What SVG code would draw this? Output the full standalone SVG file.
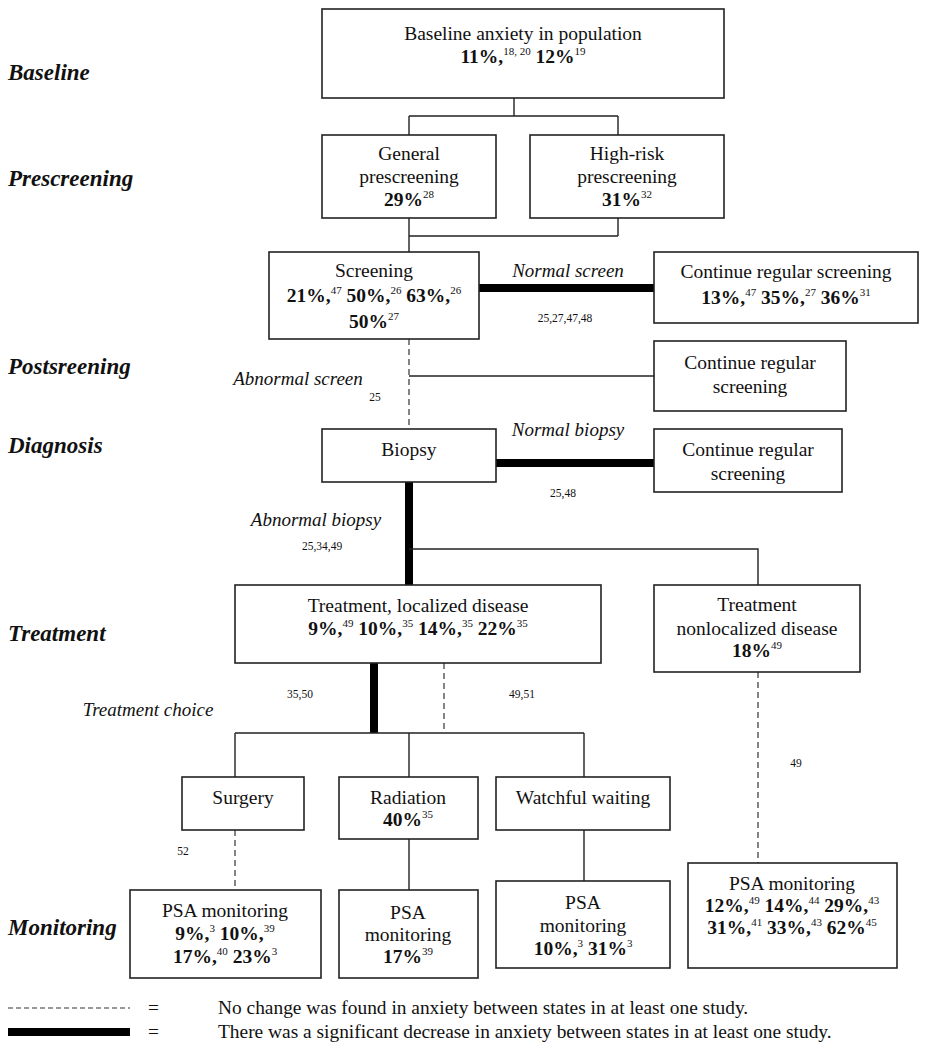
<svg xmlns="http://www.w3.org/2000/svg" width="940" height="1050" viewBox="0 0 940 1050">
<style>
text{font-family:"Liberation Serif","Times New Roman",serif;fill:#111}
.t{font-size:19.5px;text-anchor:middle}
.b{font-weight:bold}
.s{font-size:11px;font-weight:normal}
.st{font-size:23px;font-weight:bold;font-style:italic}
.it{font-size:19px;font-style:italic;text-anchor:middle}
.r{font-size:11.5px;text-anchor:middle}
.lg{font-size:19.4px}
rect{fill:#fff;stroke:#222;stroke-width:1.6}
.ln{stroke:#222;stroke-width:1.4;fill:none}
.dash{stroke:#333;stroke-width:1.2;stroke-dasharray:6,4;fill:none}
.thick{stroke:#000;stroke-width:8;fill:none}
</style>
<rect x="0" y="0" width="940" height="1050" style="fill:#fff;stroke:none"/>

<g id="stages">
<text class="st" x="8" y="80">Baseline</text>
<text class="st" x="8" y="186">Prescreening</text>
<text class="st" x="8" y="374">Postsreening</text>
<text class="st" x="8" y="453">Diagnosis</text>
<text class="st" x="8" y="641">Treatment</text>
<text class="st" x="8" y="935">Monitoring</text>
</g>

<g id="connectors">
<path class="ln" d="M514 98V116M409 116H618M409 116V135M618 116V135"/>
<path class="ln" d="M409 218V236M618 218V236M409 236H618M409 236V252"/>
<path class="thick" d="M479 288H654"/>
<path class="dash" d="M409 339V429"/>
<path class="ln" d="M409 376H654"/>
<path class="thick" d="M496 463H654"/>
<path class="thick" d="M409 482V585"/>
<path class="ln" d="M409 549H758V585"/>
<path class="thick" d="M374 663V733"/>
<path class="dash" d="M444 663V733"/>
<path class="ln" d="M235 733H584M235 733V777M409 733V777M584 733V777"/>
<path class="dash" d="M758 672V863"/>
<path class="dash" d="M235 830V890"/>
<path class="ln" d="M409 839V890"/>
<path class="ln" d="M584 830V881"/>
</g>

<g id="edge-labels">
<text class="it" x="568" y="277">Normal screen</text>
<text class="r" x="565" y="322">25,27,47,48</text>
<text class="it" x="298" y="385">Abnormal screen</text>
<text class="r" x="375" y="401">25</text>
<text class="it" x="568" y="436">Normal biopsy</text>
<text class="r" x="563" y="497">25,48</text>
<text class="it" x="316" y="526">Abnormal biopsy</text>
<text class="r" x="322" y="550">25,34,49</text>
<text class="r" x="300" y="698">35,50</text>
<text class="r" x="522" y="698">49,51</text>
<text class="it" x="148" y="716">Treatment choice</text>
<text class="r" x="796" y="767">49</text>
<text class="r" x="183" y="855">52</text>
</g>

<g id="baseline">
<rect x="322" y="9" width="402" height="89"/>
<text class="t" x="523" y="40">Baseline anxiety in population</text>
<text class="t b" x="523" y="63">11%,<tspan class="s" dy="-8">18, 20</tspan><tspan dy="8"> 12%</tspan><tspan class="s" dy="-8">19</tspan></text>
</g>

<g id="general-prescreening">
<rect x="322" y="135" width="174" height="83"/>
<text class="t" x="409" y="160">General</text>
<text class="t" x="409" y="183">prescreening</text>
<text class="t b" x="409" y="206">29%<tspan class="s" dy="-8">28</tspan></text>
</g>

<g id="highrisk-prescreening">
<rect x="530" y="135" width="194" height="83"/>
<text class="t" x="627" y="160">High-risk</text>
<text class="t" x="627" y="183">prescreening</text>
<text class="t b" x="627" y="206">31%<tspan class="s" dy="-8">32</tspan></text>
</g>

<g id="screening">
<rect x="269" y="252" width="210" height="87"/>
<text class="t" x="374" y="277">Screening</text>
<text class="t b" x="374" y="302">21%,<tspan class="s" dy="-8">47</tspan><tspan dy="8"> 50%,</tspan><tspan class="s" dy="-8">26</tspan><tspan dy="8"> 63%,</tspan><tspan class="s" dy="-8">26</tspan></text>
<text class="t b" x="374" y="328">50%<tspan class="s" dy="-8">27</tspan></text>
</g>

<g id="continue1">
<rect x="654" y="252" width="264" height="71"/>
<text class="t" x="786" y="278">Continue regular screening</text>
<text class="t b" x="786" y="304">13%,<tspan class="s" dy="-8">47</tspan><tspan dy="8"> 35%,</tspan><tspan class="s" dy="-8">27</tspan><tspan dy="8"> 36%</tspan><tspan class="s" dy="-8">31</tspan></text>
</g>

<g id="continue2">
<rect x="654" y="341" width="192" height="70"/>
<text class="t" x="750" y="369">Continue regular</text>
<text class="t" x="750" y="393">screening</text>
</g>

<g id="biopsy">
<rect x="322" y="429" width="174" height="53"/>
<text class="t" x="409" y="456">Biopsy</text>
</g>

<g id="continue3">
<rect x="654" y="429" width="188" height="63"/>
<text class="t" x="748" y="456">Continue regular</text>
<text class="t" x="748" y="480">screening</text>
</g>

<g id="treatment-localized">
<rect x="235" y="585" width="366" height="78"/>
<text class="t" x="418" y="612">Treatment, localized disease</text>
<text class="t b" x="418" y="635">9%,<tspan class="s" dy="-8">49</tspan><tspan dy="8"> 10%,</tspan><tspan class="s" dy="-8">35</tspan><tspan dy="8"> 14%,</tspan><tspan class="s" dy="-8">35</tspan><tspan dy="8"> 22%</tspan><tspan class="s" dy="-8">35</tspan></text>
</g>

<g id="treatment-nonlocalized">
<rect x="654" y="585" width="206" height="87"/>
<text class="t" x="757" y="611">Treatment</text>
<text class="t" x="757" y="635">nonlocalized disease</text>
<text class="t b" x="757" y="657">18%<tspan class="s" dy="-8">49</tspan></text>
</g>

<g id="surgery">
<rect x="182" y="777" width="122" height="53"/>
<text class="t" x="243" y="804">Surgery</text>
</g>

<g id="radiation">
<rect x="339" y="777" width="139" height="62"/>
<text class="t" x="408" y="804">Radiation</text>
<text class="t b" x="408" y="826">40%<tspan class="s" dy="-8">35</tspan></text>
</g>

<g id="watchful-waiting">
<rect x="496" y="777" width="174" height="53"/>
<text class="t" x="583" y="804">Watchful waiting</text>
</g>

<g id="psa1">
<rect x="130" y="890" width="191" height="88"/>
<text class="t" x="225" y="917">PSA monitoring</text>
<text class="t b" x="225" y="940">9%,<tspan class="s" dy="-8">3</tspan><tspan dy="8"> 10%,</tspan><tspan class="s" dy="-8">39</tspan></text>
<text class="t b" x="225" y="963">17%,<tspan class="s" dy="-8">40</tspan><tspan dy="8"> 23%</tspan><tspan class="s" dy="-8">3</tspan></text>
</g>

<g id="psa2">
<rect x="339" y="890" width="139" height="88"/>
<text class="t" x="408" y="919">PSA</text>
<text class="t" x="408" y="941">monitoring</text>
<text class="t b" x="408" y="963">17%<tspan class="s" dy="-8">39</tspan></text>
</g>

<g id="psa3">
<rect x="496" y="881" width="174" height="87"/>
<text class="t" x="583" y="909">PSA</text>
<text class="t" x="583" y="932">monitoring</text>
<text class="t b" x="583" y="955">10%,<tspan class="s" dy="-8">3</tspan><tspan dy="8"> 31%</tspan><tspan class="s" dy="-8">3</tspan></text>
</g>

<g id="psa4">
<rect x="688" y="863" width="209" height="105"/>
<text class="t" x="792" y="890">PSA monitoring</text>
<text class="t b" x="792" y="912">12%,<tspan class="s" dy="-8">49</tspan><tspan dy="8"> 14%,</tspan><tspan class="s" dy="-8">44</tspan><tspan dy="8"> 29%,</tspan><tspan class="s" dy="-8">43</tspan></text>
<text class="t b" x="792" y="934">31%,<tspan class="s" dy="-8">41</tspan><tspan dy="8"> 33%,</tspan><tspan class="s" dy="-8">43</tspan><tspan dy="8"> 62%</tspan><tspan class="s" dy="-8">45</tspan></text>
</g>

<g id="legend">
<path class="dash" d="M8 1008H130" style="stroke-dasharray:5,3"/>
<text class="lg" x="148" y="1014">=</text>
<text class="lg" x="218" y="1014">No change was found in anxiety between states in at least one study.</text>
<path class="thick" d="M8 1032H130"/>
<text class="lg" x="148" y="1038">=</text>
<text class="lg" x="218" y="1038">There was a significant decrease in anxiety between states in at least one study.</text>
</g>
</svg>
